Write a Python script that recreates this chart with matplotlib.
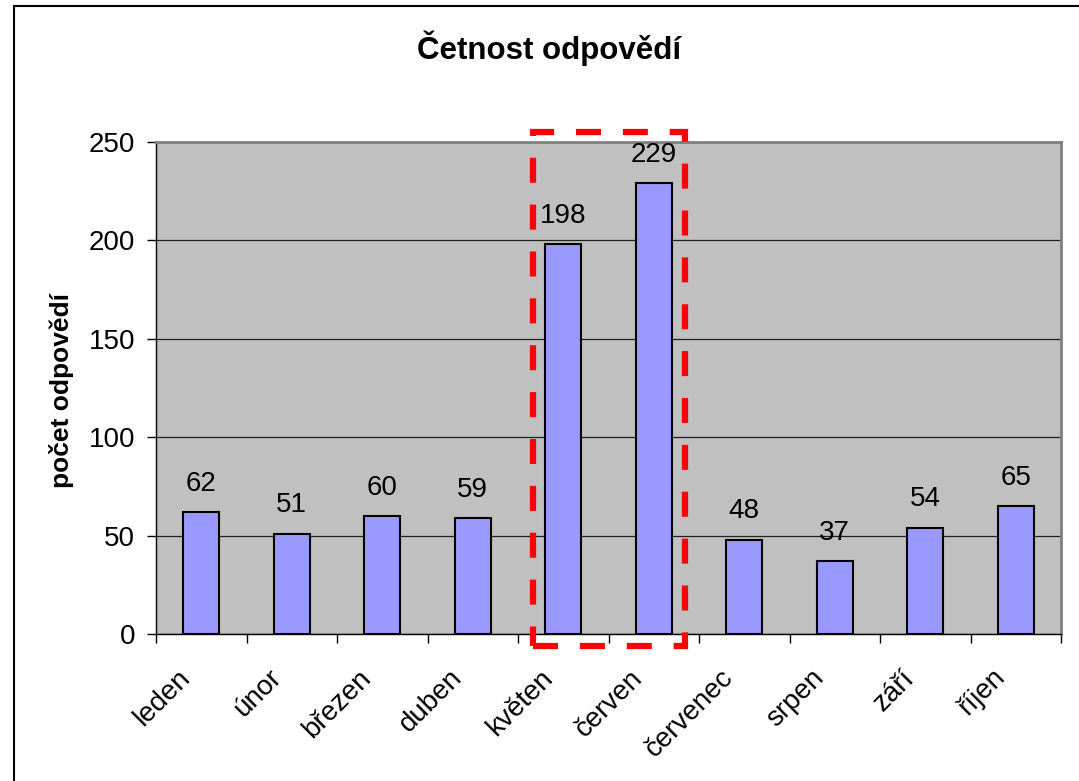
import matplotlib.pyplot as plt
import matplotlib.transforms as mtransforms
from matplotlib.patches import Rectangle

plt.rcParams['font.family'] = ['Liberation Sans', 'DejaVu Sans']

months = ['leden', 'únor', 'březen', 'duben', 'květen', 'červen',
          'červenec', 'srpen', 'září', 'říjen']
counts = [62, 51, 60, 59, 198, 229, 48, 37, 54, 65]
y_ticks = [0, 50, 100, 150, 200, 250]

fig = plt.figure(figsize=(10.79, 7.81), dpi=100)
ax = fig.add_axes([156 / 1079, 1 - 634 / 781, (1061 - 156) / 1079, (634 - 142) / 781])

# outer chart frame (runs off the right and bottom edges in the original)
fig.patches.append(Rectangle((14 / 1079, -0.01), 1.1, 1 - 6 / 781 + 0.01,
                             transform=fig.transFigure, fill=False,
                             edgecolor='black', linewidth=1.5))

ax.set_facecolor('#C0C0C0')
xs = list(range(len(months)))
ax.bar(xs, counts, width=0.4, color='#9999FF', edgecolor='black', linewidth=1.5, zorder=3)

for x, v in zip(xs, counts):
    ax.annotate(str(v), (x, v), xytext=(0, 11), textcoords='offset points',
                ha='center', va='bottom', fontsize=20)

ax.set_xlim(-0.5, len(months) - 0.5)
ax.set_ylim(0, 250)
ax.set_yticks(y_ticks)
ax.yaxis.grid(True, color='#202020', linewidth=0.9, zorder=1)
ax.tick_params(axis='y', labelsize=20, length=6.5, width=1, direction='out', pad=8.5)

# ticks between categories, labels at centres
ax.set_xticks([i - 0.5 for i in range(len(months) + 1)])
ax.set_xticklabels([])
ax.set_xticks(xs, minor=True)
ax.set_xticklabels(months, minor=True, rotation=45, ha='right', rotation_mode='anchor',
                   fontsize=20)
ax.tick_params(axis='x', which='major', length=6.5, width=1, direction='out')
ax.tick_params(axis='x', which='minor', length=0, pad=20)
shift = mtransforms.ScaledTranslation(-24 / 100, -3 / 100, fig.dpi_scale_trans)
for lbl in ax.get_xticklabels(minor=True):
    lbl.set_transform(lbl.get_transform() + shift)

for side in ('top', 'right'):
    ax.spines[side].set_color('#808080')
    ax.spines[side].set_linewidth(2)
for side in ('left', 'bottom'):
    ax.spines[side].set_color('black')
    ax.spines[side].set_linewidth(1)

fig.text(549 / 1079, 1 - 48 / 781, 'Četnost odpovědí', ha='center', va='center',
         fontsize=22.5, fontweight='bold')
fig.text(62 / 1079, 1 - 390 / 781, 'počet odpovědí', ha='center', va='center',
         rotation=90, fontsize=19, fontweight='bold')

# red dashed highlight around květen and červen
ax.add_patch(Rectangle((3.67, -6), 1.67, 261, fill=False, edgecolor='#FF0000',
                       linewidth=4.5, linestyle=(0, (4, 3.5)), clip_on=False, zorder=5))

fig.savefig('out.png', dpi=100)
